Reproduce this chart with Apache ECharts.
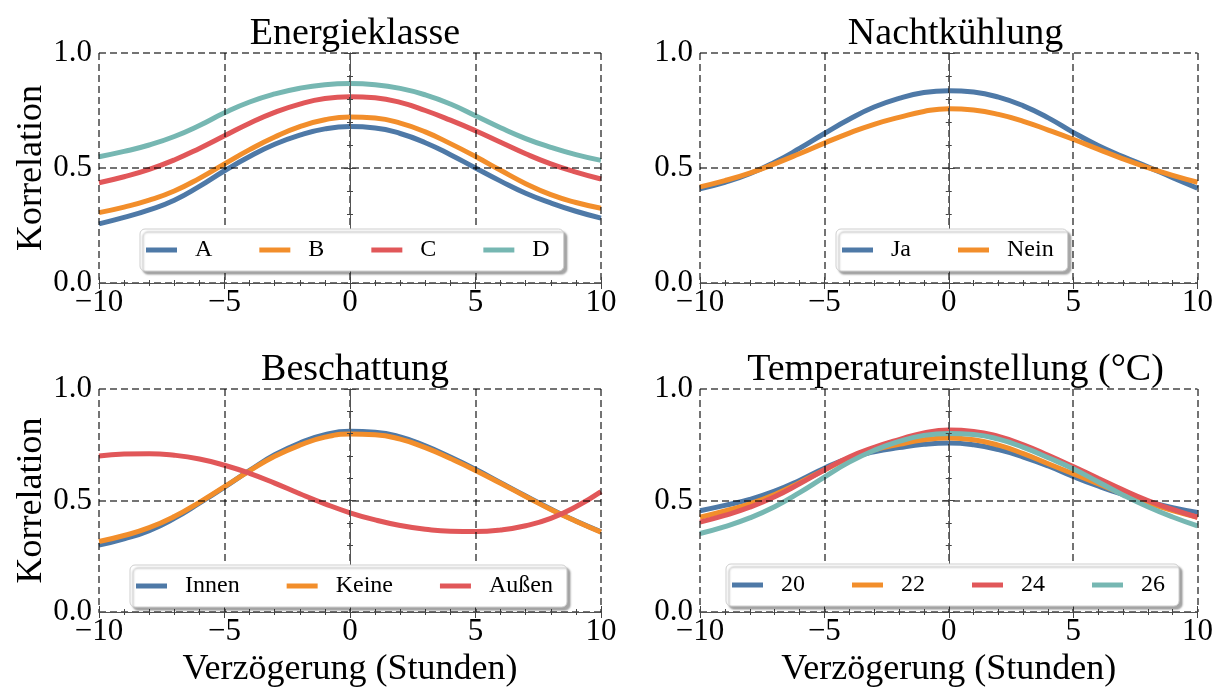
<!DOCTYPE html>
<html>
<head>
<meta charset="utf-8">
<script src="https://cdn.jsdelivr.net/npm/echarts@6/dist/echarts.min.js"></script>
<style>html,body{margin:0;padding:0;background:#fff;}#c{width:1216px;height:689px;}</style>
</head>
<body>
<div id="c"></div>
<script>
const lags = [-10,-9,-8,-7,-6,-5,-4,-3,-2,-1,0,1,2,3,4,5,6,7,8,9,10];

const energieA = [0.257,0.285,0.318,0.36,0.42,0.488,0.55,0.603,0.643,0.67,0.68,0.674,0.65,0.61,0.558,0.5,0.443,0.39,0.348,0.312,0.282];
const energieB = [0.306,0.33,0.36,0.4,0.455,0.518,0.58,0.635,0.68,0.71,0.722,0.717,0.695,0.657,0.606,0.55,0.49,0.432,0.384,0.35,0.325];
const energieC = [0.436,0.462,0.494,0.535,0.585,0.64,0.695,0.742,0.778,0.802,0.81,0.805,0.785,0.75,0.708,0.662,0.612,0.562,0.518,0.482,0.452];
const energieD = [0.549,0.572,0.6,0.637,0.685,0.74,0.787,0.822,0.847,0.862,0.867,0.862,0.846,0.818,0.778,0.727,0.675,0.628,0.59,0.558,0.533];

const nachtJa   = [0.41,0.438,0.475,0.525,0.585,0.65,0.712,0.765,0.803,0.828,0.836,0.83,0.808,0.77,0.718,0.655,0.598,0.55,0.505,0.458,0.412];
const nachtNein = [0.418,0.445,0.478,0.518,0.562,0.608,0.652,0.69,0.72,0.746,0.758,0.752,0.733,0.703,0.665,0.625,0.582,0.54,0.502,0.468,0.438];

const schattenInnen  = [0.3,0.328,0.365,0.42,0.488,0.56,0.635,0.705,0.758,0.795,0.81,0.806,0.785,0.745,0.695,0.64,0.58,0.52,0.462,0.408,0.36];
const schattenKeine  = [0.316,0.343,0.378,0.428,0.492,0.562,0.633,0.698,0.748,0.784,0.798,0.795,0.775,0.737,0.688,0.635,0.577,0.518,0.46,0.407,0.358];
const schattenAussen = [0.7,0.708,0.71,0.703,0.686,0.658,0.622,0.578,0.53,0.485,0.445,0.413,0.388,0.371,0.362,0.361,0.368,0.387,0.42,0.472,0.54];

const temp20 = [0.454,0.478,0.505,0.542,0.59,0.645,0.69,0.718,0.737,0.752,0.758,0.75,0.728,0.695,0.655,0.608,0.565,0.527,0.495,0.468,0.446];
const temp22 = [0.425,0.453,0.485,0.527,0.58,0.637,0.69,0.727,0.752,0.772,0.78,0.772,0.748,0.71,0.665,0.62,0.575,0.53,0.49,0.455,0.425];
const temp24 = [0.403,0.433,0.47,0.517,0.575,0.637,0.695,0.738,0.773,0.803,0.816,0.81,0.787,0.75,0.703,0.652,0.6,0.548,0.5,0.46,0.425];
const temp26 = [0.352,0.383,0.422,0.472,0.535,0.605,0.672,0.725,0.765,0.792,0.801,0.796,0.775,0.738,0.692,0.642,0.584,0.525,0.472,0.426,0.386];

const panelTitles = ['Energieklasse','Nachtkühlung','Beschattung','Temperatureinstellung (°C)'];
const xTicks = [-10,-5,0,5,10];
const yTicks = [0.0,0.5,1.0];
const yLabel = 'Korrelation';
const xLabel = 'Verzögerung (Stunden)';

const C_BLUE='#4e79a7', C_ORANGE='#f28e2b', C_RED='#e15759', C_TEAL='#76b7b2';
const panels = [
  {names:['A','B','C','D'], data:[energieA,energieB,energieC,energieD], colors:[C_BLUE,C_ORANGE,C_RED,C_TEAL]},
  {names:['Ja','Nein'], data:[nachtJa,nachtNein], colors:[C_BLUE,C_ORANGE]},
  {names:['Innen','Keine','Außen'], data:[schattenInnen,schattenKeine,schattenAussen], colors:[C_BLUE,C_ORANGE,C_RED]},
  {names:['20','22','24','26'], data:[temp20,temp22,temp24,temp26], colors:[C_BLUE,C_ORANGE,C_RED,C_TEAL]}
];

const FONT = '"Liberation Serif", "Times New Roman", serif';
const grids = [
  {left:99, top:53, width:502, height:230},
  {left:700, top:53, width:501, height:230},
  {left:99, top:389, width:502, height:230},
  {left:700, top:389, width:501, height:230}
];
const legendPos = [
  {left:140, top:229},
  {left:836, top:229},
  {left:130, top:565},
  {left:726, top:564}
];
const titleTops = [10, 10, 346, 346];

const axisLineStyle = {color:'#555', width:1};
const gridLine = {show:true, lineStyle:{color:'rgba(0,0,0,0.55)', width:2, type:[7,4]}};
const fmtX = v => (v < 0 ? '\u2212' + Math.abs(v) : String(v));

const xAxes = [], yAxes = [], series = [], legends = [], titles = [];
grids.forEach((g, i) => {
  const bottom = i >= 2;
  xAxes.push({
    gridIndex:i, type:'value', min:xTicks[0], max:xTicks[xTicks.length-1], interval:5, z:3,
    axisLine:{show:true, lineStyle:axisLineStyle},
    axisTick:{show:true, inside:true, length:6, lineStyle:{color:'#444'}},
    minorTick:{show:true, splitNumber:5, length:3, lineStyle:{color:'#444'}},
    axisLabel:{show:true, formatter:fmtX, fontFamily:FONT, fontSize:31, color:'#000', margin:4},
    splitLine:gridLine,
    name: bottom ? xLabel : '', nameLocation:'middle', nameGap:40,
    nameTextStyle:{fontFamily:FONT, fontSize:36, color:'#000'}
  });
  xAxes.push({
    gridIndex:i, type:'value', position:'top', min:-10, max:10, interval:5, z:3,
    axisLine:{show:true, lineStyle:axisLineStyle},
    axisTick:{show:true, inside:true, length:6, lineStyle:{color:'#444'}},
    minorTick:{show:true, splitNumber:5, length:3, lineStyle:{color:'#444'}},
    axisLabel:{show:false}, splitLine:{show:false}
  });
  yAxes.push({
    gridIndex:i, type:'value', min:yTicks[0], max:yTicks[yTicks.length-1], interval:0.5, z:3,
    axisLine:{show:true, lineStyle:axisLineStyle},
    axisTick:{show:true, inside:true, length:6, lineStyle:{color:'#444'}},
    minorTick:{show:true, splitNumber:5, length:3, lineStyle:{color:'#444'}},
    axisLabel:{show:true, formatter:v => v.toFixed(1), fontFamily:FONT, fontSize:31, color:'#000', margin:7},
    splitLine:gridLine,
    name: (i % 2 === 0) ? yLabel : '', nameLocation:'middle', nameGap:47, nameRotate:90,
    nameTextStyle:{fontFamily:FONT, fontSize:36, color:'#000'}
  });
  yAxes.push({
    gridIndex:i, type:'value', position:'right', min:0, max:1, interval:0.5, z:3,
    axisLine:{show:true, lineStyle:axisLineStyle},
    axisTick:{show:true, inside:true, length:6, lineStyle:{color:'#444'}},
    minorTick:{show:true, splitNumber:5, length:3, lineStyle:{color:'#444'}},
    axisLabel:{show:false}, splitLine:{show:false}
  });
  const p = panels[i];
  p.names.forEach((n, k) => {
    series.push({
      type:'line', name:n, xAxisIndex:2*i, yAxisIndex:2*i,
      data: lags.map((x, j) => [x, p.data[k][j]]),
      smooth:0.5, showSymbol:false, symbol:'none',
      lineStyle:{color:p.colors[k], width:5},
      itemStyle:{color:p.colors[k]}, z:2, silent:true, animation:false
    });
  });
  legends.push({
    data:p.names, left:legendPos[i].left, top:legendPos[i].top, orient:'horizontal',
    itemWidth:31, itemHeight:5, itemGap:47, icon:'rect',
    padding:[9,14,9,6], backgroundColor:'#fff', borderColor:'#cfcfcf', borderWidth:1, borderRadius:5,
    shadowColor:'rgba(0,0,0,0.35)', shadowBlur:2, shadowOffsetX:3, shadowOffsetY:3,
    textStyle:{fontFamily:FONT, fontSize:24, color:'#000', padding:[0,0,0,13]},
    selectedMode:false, z:5
  });
  titles.push({
    text:panelTitles[i], left:g.left + g.width/2, top:titleTops[i], textAlign:'center',
    textStyle:{fontFamily:FONT, fontSize:38, fontWeight:'normal', color:'#000'}
  });
});

const chart = echarts.init(document.getElementById('c'), null, {renderer:'canvas'});
chart.setOption({
  animation:false,
  backgroundColor:'#fff',
  title:titles,
  grid:grids.map(g => Object.assign({containLabel:false}, g)),
  xAxis:xAxes, yAxis:yAxes, legend:legends, series:series
});
</script>
</body>
</html>
